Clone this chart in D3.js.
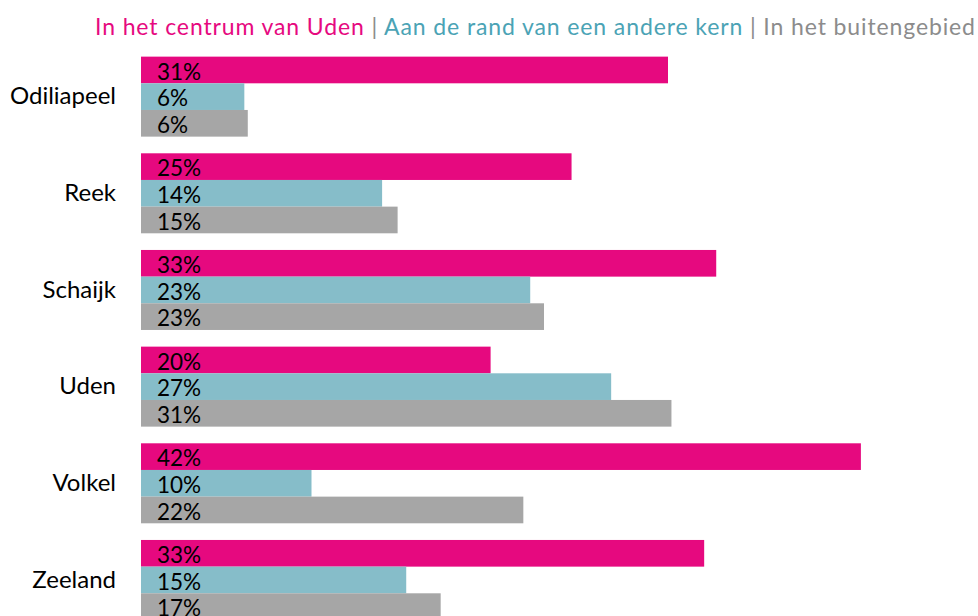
<!DOCTYPE html>
<html>
<head>
<meta charset="utf-8">
<script src="https://cdn.jsdelivr.net/npm/d3@7"></script>
<style>
  body { margin: 0; background: #fff; }
  svg { display: block; font-family: Lato, "Open Sans", sans-serif; }
</style>
</head>
<body>
<svg id="vis" width="978" height="616"></svg>
<script>
// chart data (percentages)
var places = ["Odiliapeel", "Reek", "Schaijk", "Uden", "Volkel", "Zeeland"];
var seriesNames = ["In het centrum van Uden", "Aan de rand van een andere kern", "In het buitengebied"];
var centrum = [30.6, 25.0, 33.4, 20.3, 41.8, 32.7];
var rand = [6.0, 14.0, 22.6, 27.3, 9.9, 15.4];
var buiten = [6.2, 14.9, 23.4, 30.8, 22.2, 17.4];

var barColors = ["#e6097f", "#86bdc9", "#a6a6a6"];
var titleColors = ["#e6097f", "#4ba3b5", "#8c8c8c"];

var svg = d3.select("#vis");

var margin = { left: 141, top: 48.3 };

var xScale = d3.scaleLinear()
  .domain([0, 45])
  .range([margin.left, margin.left + 775]);

var yScale = d3.scaleBand()
  .domain(places)
  .range([margin.top, margin.top + 580])
  .paddingInner(0.1724)
  .paddingOuter(0.0862);

var subScale = d3.scaleBand()
  .domain(seriesNames)
  .range([0, yScale.bandwidth()]);

var rows = [];
places.forEach(function(p, i) {
  rows.push({ place: p, series: seriesNames[0], value: centrum[i], c: 0 });
  rows.push({ place: p, series: seriesNames[1], value: rand[i], c: 1 });
  rows.push({ place: p, series: seriesNames[2], value: buiten[i], c: 2 });
});

// title / legend line
var title = svg.append("text")
  .attr("x", 95)
  .attr("y", 35)
  .attr("textLength", 880)
  .attr("lengthAdjust", "spacing")
  .style("font-size", "23px");
seriesNames.forEach(function(name, i) {
  if (i > 0) {
    title.append("tspan").attr("fill", "#8c8c8c").text(" | ");
  }
  title.append("tspan").attr("fill", titleColors[i]).text(name);
});

var plot = svg.append("g").attr("id", "plot");

plot.selectAll("rect")
  .data(rows)
  .enter().append("rect")
  .attr("x", xScale(0))
  .attr("y", function(d) { return yScale(d.place) + subScale(d.series); })
  .attr("width", function(d) { return xScale(d.value) - xScale(0); })
  .attr("height", subScale.bandwidth())
  .attr("fill", function(d) { return barColors[d.c]; });

plot.selectAll("text.val")
  .data(rows)
  .enter().append("text")
  .attr("class", "val")
  .attr("x", xScale(0) + 16)
  .attr("y", function(d) { return yScale(d.place) + subScale(d.series) + subScale.bandwidth() - 3.5; })
  .style("font-size", "22.5px")
  .attr("fill", "#000")
  .text(function(d) { return Math.round(d.value) + "%"; });

// category labels
var yAxis = d3.axisLeft(yScale).tickSize(0).tickPadding(0);
var yGroup = svg.append("g").attr("transform", "translate(116,0)").call(yAxis);
yGroup.select(".domain").remove();
yGroup.selectAll("text")
  .style("font-size", "24px")
  .style("font-family", "Lato, 'Open Sans', sans-serif")
  .attr("fill", "#000");
</script>
</body>
</html>
